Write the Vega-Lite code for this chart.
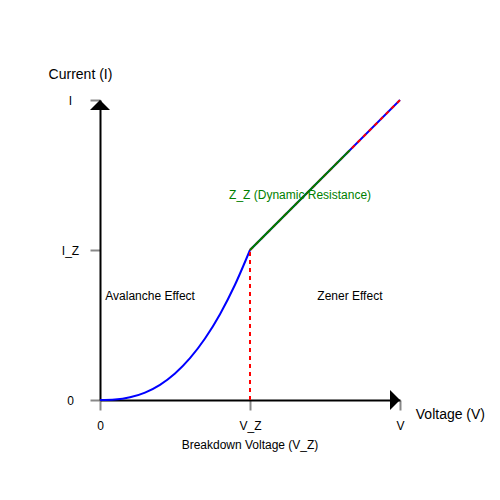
{
  "$schema": "https://vega.github.io/schema/vega-lite/v6.json",
  "width": 300,
  "height": 300,
  "autosize": "none",
  "padding": {"left": 100, "top": 100, "right": 100, "bottom": 100},
  "config": {"view": {"stroke": null}, "font": "Liberation Sans"},
  "datasets": {
    "curve": [
      {"v": 0, "i": 0}, {"v": 0.5, "i": 0.016}, {"v": 1, "i": 0.089}, {"v": 1.5, "i": 0.247},
      {"v": 2, "i": 0.506}, {"v": 2.5, "i": 0.884}, {"v": 3, "i": 1.394}, {"v": 3.5, "i": 2.05},
      {"v": 4, "i": 2.862}, {"v": 4.5, "i": 3.842}, {"v": 5, "i": 5}
    ],
    "linear": [{"v": 5, "i": 5}, {"v": 10, "i": 10}],
    "green": [{"v": 5, "i": 5}, {"v": 8.33, "i": 8.33}],
    "vz": [{"v": 5, "i": 0}, {"v": 5, "i": 5}],
    "labels": [
      {"v": 1.67, "i": 3.47, "t": "Avalanche Effect", "c": "black", "s": 12},
      {"v": 8.33, "i": 3.47, "t": "Zener Effect", "c": "black", "s": 12},
      {"v": 6.67, "i": 6.83, "t": "Z_Z (Dynamic Resistance)", "c": "green", "s": 12},
      {"v": 5, "i": -1.5, "t": "Breakdown Voltage (V_Z)", "c": "black", "s": 12},
      {"v": 11.68, "i": -0.5, "t": "Voltage (V)", "c": "black", "s": 14},
      {"v": -0.65, "i": 10.83, "t": "Current (I)", "c": "black", "s": 14}
    ],
    "xarrow": [{"v": 10, "i": 0}],
    "yarrow": [{"v": 0, "i": 10}]
  },
  "encoding": {
    "x": {"field": "v", "type": "quantitative", "scale": {"domain": [0, 10], "nice": false, "zero": false}},
    "y": {"field": "i", "type": "quantitative", "scale": {"domain": [0, 10], "nice": false, "zero": false}}
  },
  "layer": [
    {
      "data": {"name": "curve"},
      "mark": {"type": "line", "color": "#0000ff", "strokeWidth": 2, "interpolate": "monotone"},
      "encoding": {
        "x": {"field": "v", "type": "quantitative", "scale": {"domain": [0, 10], "nice": false, "zero": false},
          "axis": {"values": [0, 5, 10], "labelExpr": "datum.value == 0 ? '0' : datum.value == 5 ? 'V_Z' : 'V'", "title": null, "grid": false, "labelFlush": false, "labelOverlap": false,
            "domainColor": "black", "domainWidth": 2, "tickColor": "#888888", "tickWidth": 2, "tickSize": 10, "labelPadding": 10, "labelFontSize": 12, "labelColor": "black", "labelFont": "Liberation Sans"}},
        "y": {"field": "i", "type": "quantitative", "scale": {"domain": [0, 10], "nice": false, "zero": false},
          "axis": {"values": [0, 5, 10], "labelExpr": "datum.value == 0 ? '0' : datum.value == 5 ? 'I_Z' : 'I'", "title": null, "grid": false, "labelFlush": false, "labelOverlap": false,
            "domainColor": "black", "domainWidth": 2, "tickColor": "#888888", "tickWidth": 2, "tickSize": 10, "labelPadding": 20, "labelAlign": "center", "labelBaseline": "middle", "labelFontSize": 12, "labelColor": "black", "labelFont": "Liberation Sans"}}
      }
    },
    {
      "data": {"name": "linear"},
      "mark": {"type": "line", "color": "#0000ff", "strokeWidth": 2},
      "encoding": {}
    },
    {
      "data": {"name": "linear"},
      "mark": {"type": "line", "color": "#ff0000", "strokeWidth": 2, "strokeDash": [4, 4]},
      "encoding": {}
    },
    {
      "data": {"name": "green"},
      "mark": {"type": "line", "color": "#008000", "strokeWidth": 2},
      "encoding": {}
    },
    {
      "data": {"name": "vz"},
      "mark": {"type": "line", "color": "#ff0000", "strokeWidth": 2, "strokeDash": [4, 4]},
      "encoding": {}
    },
    {
      "data": {"name": "xarrow"},
      "mark": {"type": "point", "shape": "M-1,-1L0,0L-1,1Z", "size": 400, "filled": true, "color": "black", "opacity": 1},
      "encoding": {}
    },
    {
      "data": {"name": "yarrow"},
      "mark": {"type": "point", "shape": "M-1,1L0,0L1,1Z", "size": 400, "filled": true, "color": "black", "opacity": 1},
      "encoding": {}
    },
    {
      "data": {"name": "labels"},
      "mark": {"type": "text", "align": "center", "baseline": "middle", "font": "Liberation Sans"},
      "encoding": {
        "text": {"field": "t"},
        "color": {"field": "c", "type": "nominal", "scale": null},
        "size": {"field": "s", "type": "quantitative", "scale": null}
      }
    }
  ]
}
